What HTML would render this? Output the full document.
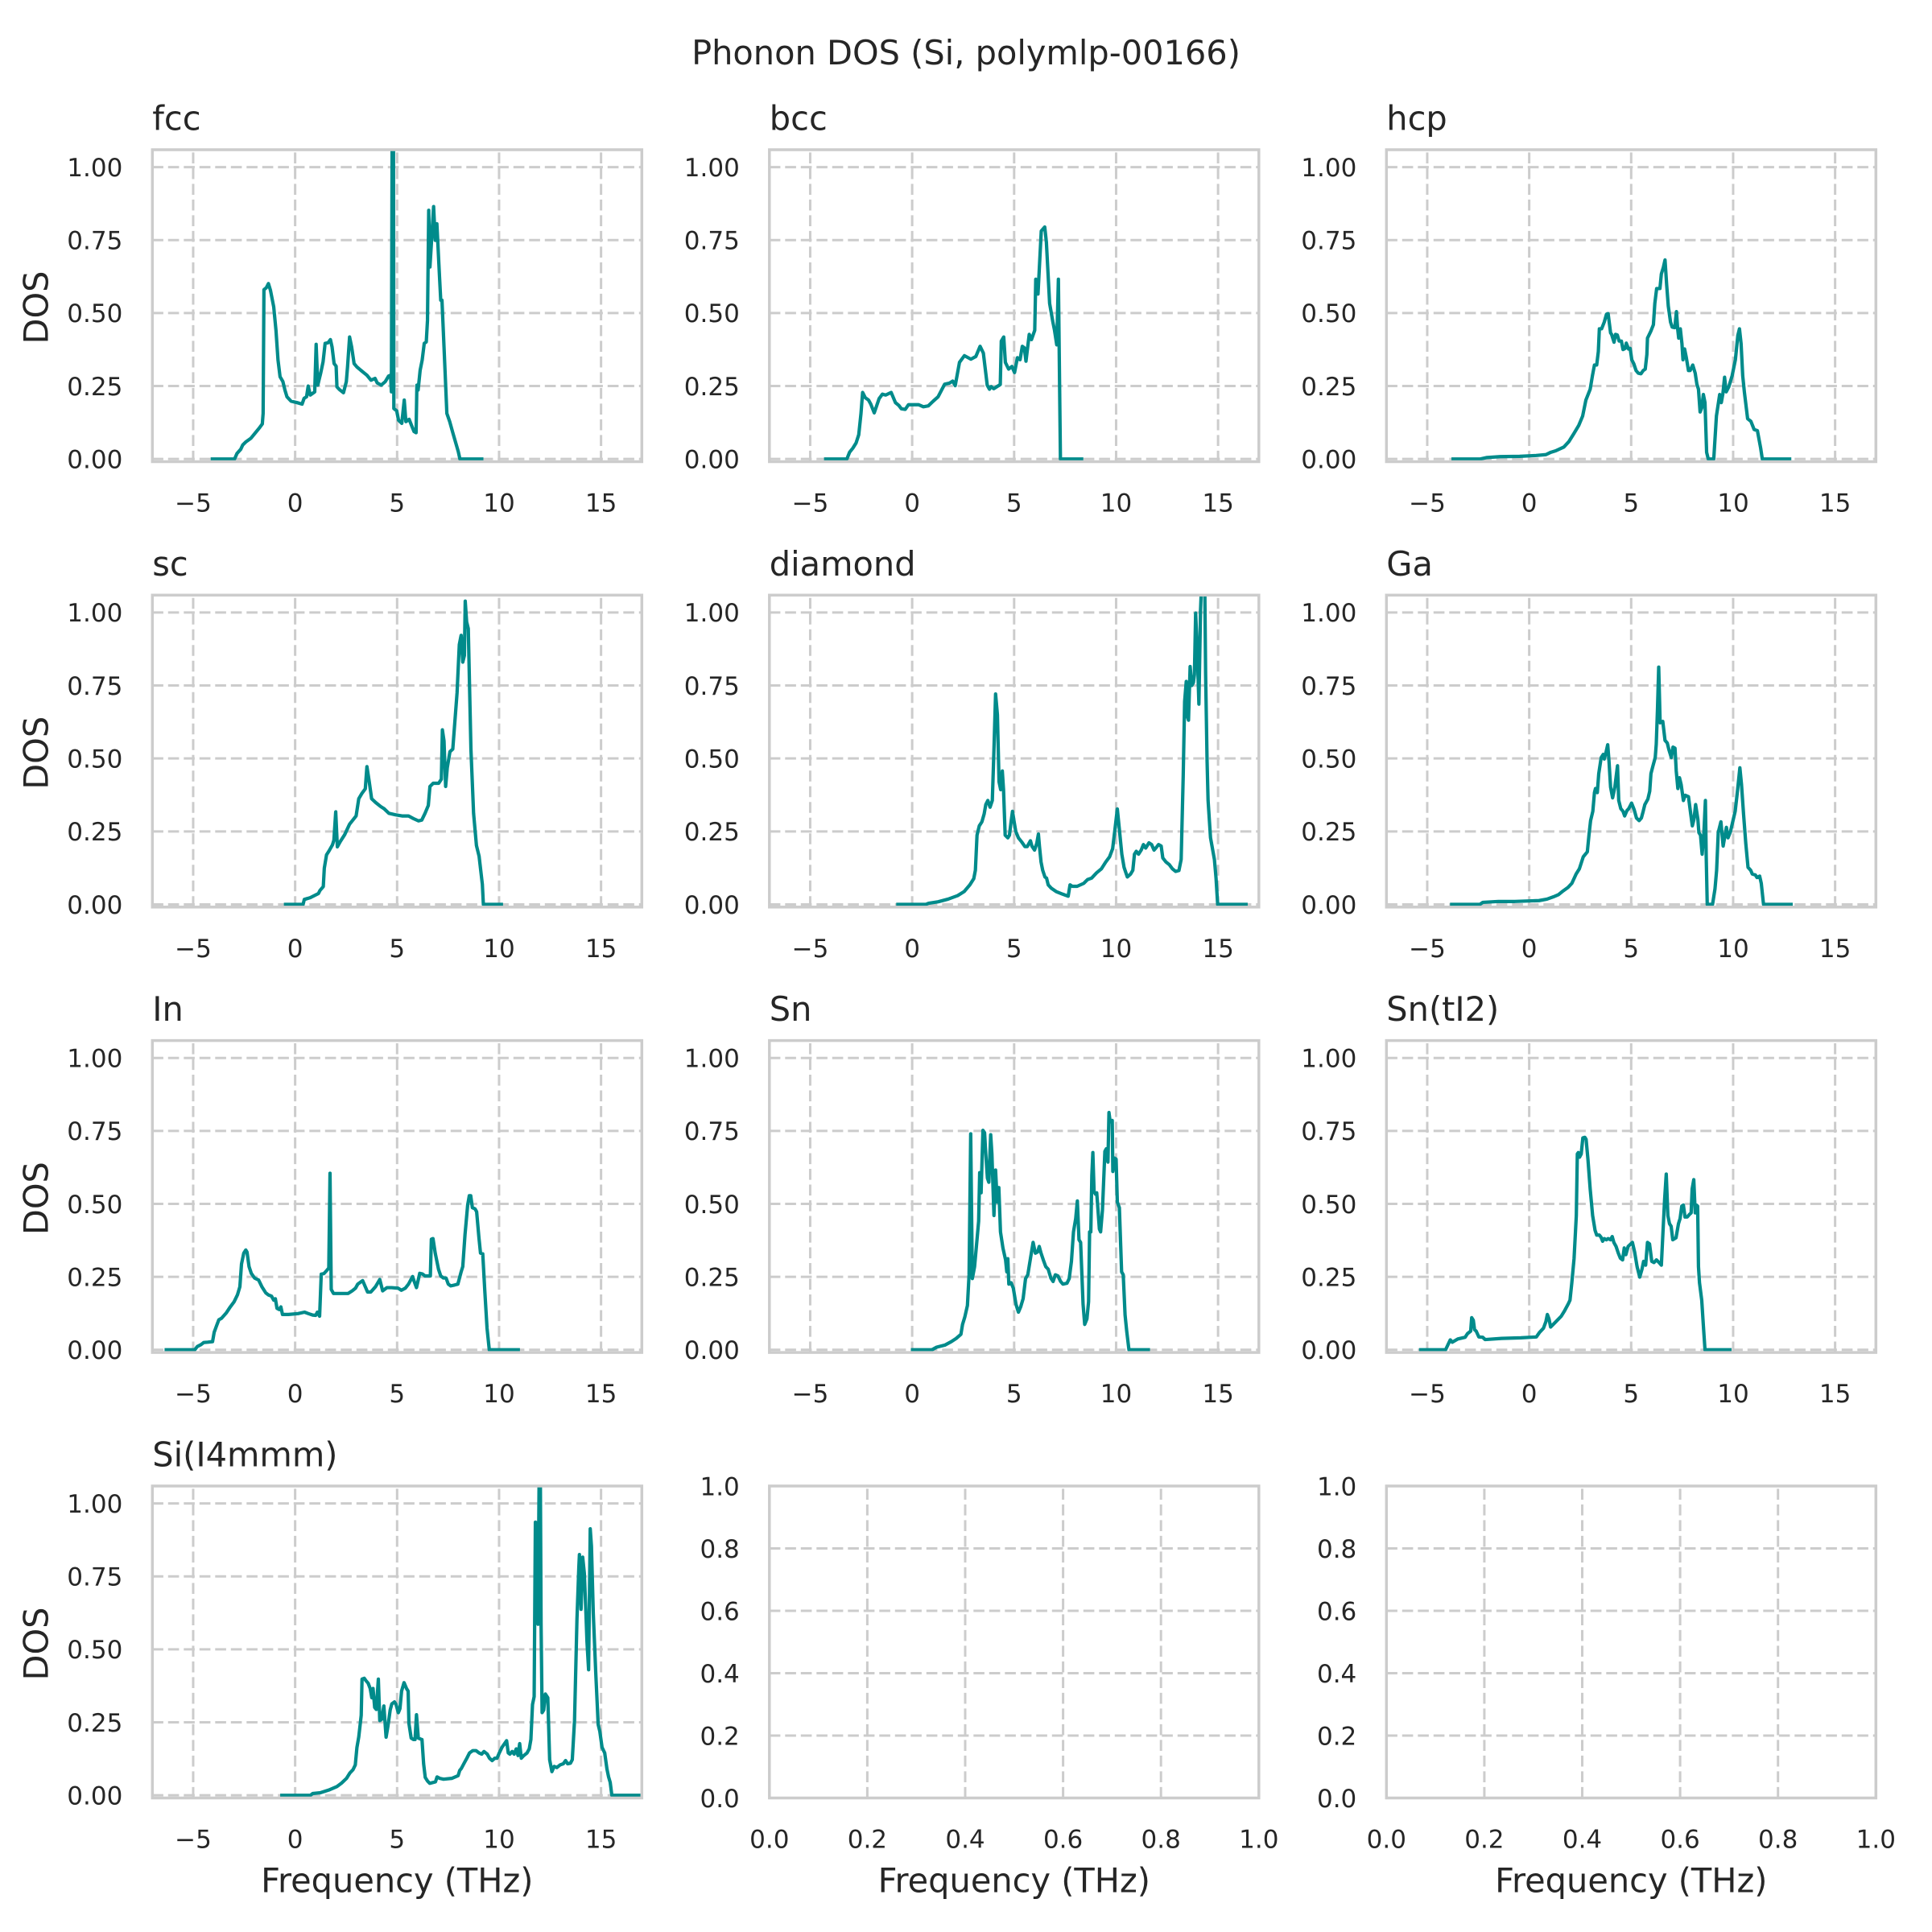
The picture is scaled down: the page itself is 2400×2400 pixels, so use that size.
<!DOCTYPE html>
<html><head><meta charset="utf-8"><style>
html,body{margin:0;padding:0;background:#fff;}
body{width:2400px;height:2400px;overflow:hidden;}
svg{display:block;}
text{font-family:"DejaVu Sans","Liberation Sans",sans-serif;fill:#262626;}
.g{stroke:#cccccc;stroke-width:3;stroke-dasharray:13.6 5.9;fill:none;}
.sp{stroke:#cccccc;stroke-width:3.5;fill:none;}
.ln{stroke:#008b8b;stroke-width:4.2;fill:none;stroke-linejoin:round;stroke-linecap:square;}
.yt{font-size:31px;text-anchor:end;}
.xt{font-size:31px;text-anchor:middle;}
.ti{font-size:41.5px;}
.lb{font-size:41.5px;text-anchor:middle;}
</style></head><body>
<svg width="2400" height="2400" viewBox="0 0 2400 2400" xmlns="http://www.w3.org/2000/svg">
<defs>
<clipPath id="a11"><rect x="189.3" y="186" width="608" height="387.5"/></clipPath>
<clipPath id="a12"><rect x="955.8" y="186" width="608" height="387.5"/></clipPath>
<clipPath id="a13"><rect x="1722.3" y="186" width="608" height="387.5"/></clipPath>
<clipPath id="a21"><rect x="189.3" y="739.3" width="608" height="387.5"/></clipPath>
<clipPath id="a22"><rect x="955.8" y="739.3" width="608" height="387.5"/></clipPath>
<clipPath id="a23"><rect x="1722.3" y="739.3" width="608" height="387.5"/></clipPath>
<clipPath id="a31"><rect x="189.3" y="1292.6" width="608" height="387.5"/></clipPath>
<clipPath id="a32"><rect x="955.8" y="1292.6" width="608" height="387.5"/></clipPath>
<clipPath id="a33"><rect x="1722.3" y="1292.6" width="608" height="387.5"/></clipPath>
<clipPath id="a41"><rect x="189.3" y="1846" width="608" height="387.5"/></clipPath>
</defs>

<text x="1200" y="80" font-size="41.5" text-anchor="middle">Phonon DOS (Si, polymlp-00166)</text>

<g class="g">
<path d="M239.97 573.5V186M366.63 573.5V186M493.3 573.5V186M619.97 573.5V186M746.63 573.5V186"/>
<path d="M189.3 570.16H797.3M189.3 479.52H797.3M189.3 388.88H797.3M189.3 298.24H797.3M189.3 207.6H797.3"/>
<path d="M1006.47 573.5V186M1133.13 573.5V186M1259.8 573.5V186M1386.47 573.5V186M1513.13 573.5V186"/>
<path d="M955.8 570.16H1563.8M955.8 479.52H1563.8M955.8 388.88H1563.8M955.8 298.24H1563.8M955.8 207.6H1563.8"/>
<path d="M1772.97 573.5V186M1899.63 573.5V186M2026.3 573.5V186M2152.97 573.5V186M2279.63 573.5V186"/>
<path d="M1722.3 570.16H2330.3M1722.3 479.52H2330.3M1722.3 388.88H2330.3M1722.3 298.24H2330.3M1722.3 207.6H2330.3"/>
<path d="M239.97 1126.8V739.3M366.63 1126.8V739.3M493.3 1126.8V739.3M619.97 1126.8V739.3M746.63 1126.8V739.3"/>
<path d="M189.3 1123.46H797.3M189.3 1032.82H797.3M189.3 942.18H797.3M189.3 851.54H797.3M189.3 760.9H797.3"/>
<path d="M1006.47 1126.8V739.3M1133.13 1126.8V739.3M1259.8 1126.8V739.3M1386.47 1126.8V739.3M1513.13 1126.8V739.3"/>
<path d="M955.8 1123.46H1563.8M955.8 1032.82H1563.8M955.8 942.18H1563.8M955.8 851.54H1563.8M955.8 760.9H1563.8"/>
<path d="M1772.97 1126.8V739.3M1899.63 1126.8V739.3M2026.3 1126.8V739.3M2152.97 1126.8V739.3M2279.63 1126.8V739.3"/>
<path d="M1722.3 1123.46H2330.3M1722.3 1032.82H2330.3M1722.3 942.18H2330.3M1722.3 851.54H2330.3M1722.3 760.9H2330.3"/>
<path d="M239.97 1680.1V1292.6M366.63 1680.1V1292.6M493.3 1680.1V1292.6M619.97 1680.1V1292.6M746.63 1680.1V1292.6"/>
<path d="M189.3 1676.76H797.3M189.3 1586.12H797.3M189.3 1495.48H797.3M189.3 1404.84H797.3M189.3 1314.2H797.3"/>
<path d="M1006.47 1680.1V1292.6M1133.13 1680.1V1292.6M1259.8 1680.1V1292.6M1386.47 1680.1V1292.6M1513.13 1680.1V1292.6"/>
<path d="M955.8 1676.76H1563.8M955.8 1586.12H1563.8M955.8 1495.48H1563.8M955.8 1404.84H1563.8M955.8 1314.2H1563.8"/>
<path d="M1772.97 1680.1V1292.6M1899.63 1680.1V1292.6M2026.3 1680.1V1292.6M2152.97 1680.1V1292.6M2279.63 1680.1V1292.6"/>
<path d="M1722.3 1676.76H2330.3M1722.3 1586.12H2330.3M1722.3 1495.48H2330.3M1722.3 1404.84H2330.3M1722.3 1314.2H2330.3"/>
<path d="M239.97 2233.5V1846M366.63 2233.5V1846M493.3 2233.5V1846M619.97 2233.5V1846M746.63 2233.5V1846"/>
<path d="M189.3 2230.16H797.3M189.3 2139.52H797.3M189.3 2048.88H797.3M189.3 1958.24H797.3M189.3 1867.6H797.3"/>
<path d="M1077.4 2233.5V1846M1199 2233.5V1846M1320.6 2233.5V1846M1442.2 2233.5V1846"/>
<path d="M955.8 2156H1563.8M955.8 2078.5H1563.8M955.8 2001H1563.8M955.8 1923.5H1563.8"/>
<path d="M1843.9 2233.5V1846M1965.5 2233.5V1846M2087.1 2233.5V1846M2208.7 2233.5V1846"/>
<path d="M1722.3 2156H2330.3M1722.3 2078.5H2330.3M1722.3 2001H2330.3M1722.3 1923.5H2330.3"/>
</g>

<g clip-path="url(#a11)"><polyline class="ln" vector-effect="non-scaling-stroke" transform="translate(366.633,570.164) scale(25.3333,-362.56)" points="-4.06,0 -2.97,0 -2.85,0.019 -2.67,0.033 -2.57,0.048 -2.41,0.059 -2.17,0.071 -1.97,0.088 -1.77,0.105 -1.61,0.12 -1.57,0.156 -1.53,0.58 -1.41,0.587 -1.31,0.601 -1.21,0.578 -1.05,0.521 -0.94,0.441 -0.84,0.339 -0.74,0.282 -0.6,0.265 -0.5,0.236 -0.4,0.213 -0.2,0.198 0.1,0.193 0.34,0.188 0.44,0.208 0.56,0.213 0.64,0.25 0.74,0.219 0.9,0.227 0.96,0.23 1.03,0.393 1.11,0.253 1.25,0.293 1.37,0.333 1.47,0.396 1.61,0.398 1.73,0.409 1.81,0.384 1.91,0.327 2.01,0.318 2.05,0.247 2.17,0.238 2.37,0.227 2.51,0.265 2.57,0.316 2.67,0.418 2.77,0.384 2.89,0.327 3.02,0.316 3.22,0.304 3.38,0.295 3.52,0.287 3.72,0.27 3.92,0.276 4.02,0.261 4.22,0.253 4.42,0.265 4.58,0.284 4.68,0.287 4.72,0.23 4.76,1.2 4.82,1.2 4.84,0.173 4.98,0.165 5.07,0.133 5.23,0.122 5.35,0.202 5.43,0.128 5.59,0.136 5.73,0.111 5.83,0.094 5.93,0.09 5.97,0.253 6.03,0.236 6.13,0.304 6.23,0.339 6.33,0.396 6.43,0.401 6.49,0.475 6.55,0.852 6.61,0.658 6.69,0.749 6.79,0.865 6.87,0.749 6.95,0.806 7.08,0.624 7.14,0.544 7.2,0.544 7.3,0.384 7.44,0.156 7.58,0.128 7.74,0.088 7.88,0.054 8.0,0.025 8.08,0 9.15,0"/></g>

<g clip-path="url(#a12)"><polyline class="ln" vector-effect="non-scaling-stroke" transform="translate(1133.133,570.164) scale(25.3333,-362.56)" points="-4.24,0 -3.2,0 -3.07,0.023 -2.91,0.037 -2.75,0.055 -2.62,0.083 -2.51,0.156 -2.43,0.228 -2.3,0.21 -2.14,0.202 -2.03,0.188 -1.86,0.158 -1.62,0.207 -1.46,0.222 -1.3,0.219 -1.03,0.228 -0.82,0.193 -0.66,0.184 -0.53,0.172 -0.34,0.17 -0.18,0.186 0.31,0.186 0.55,0.179 0.79,0.182 1.03,0.198 1.27,0.213 1.59,0.256 1.83,0.26 1.99,0.267 2.11,0.251 2.32,0.331 2.56,0.354 2.88,0.342 3.12,0.351 3.33,0.386 3.49,0.363 3.68,0.253 3.79,0.239 3.87,0.248 4,0.241 4.32,0.255 4.37,0.404 4.49,0.418 4.57,0.331 4.73,0.308 4.89,0.317 5.02,0.296 5.16,0.347 5.29,0.34 5.4,0.386 5.5,0.381 5.58,0.335 5.74,0.427 5.85,0.409 6.01,0.441 6.06,0.616 6.17,0.565 6.33,0.781 6.5,0.795 6.58,0.744 6.74,0.533 6.9,0.469 6.98,0.441 7.09,0.391 7.17,0.616 7.27,0 8.31,0"/></g>

<g clip-path="url(#a13)"><polyline class="ln" vector-effect="non-scaling-stroke" transform="translate(1899.633,570.164) scale(25.3333,-362.56)" points="-3.73,0 -2.4,0 -2.07,0.005 -1.43,0.008 -0.47,0.009 0.34,0.012 0.82,0.015 1.06,0.023 1.3,0.028 1.7,0.041 1.95,0.06 2.19,0.087 2.43,0.115 2.62,0.147 2.78,0.202 2.99,0.239 3.1,0.285 3.2,0.322 3.31,0.322 3.39,0.368 3.44,0.446 3.55,0.446 3.68,0.469 3.79,0.496 3.87,0.498 3.99,0.432 4.04,0.427 4.16,0.4 4.23,0.427 4.32,0.425 4.41,0.404 4.52,0.404 4.6,0.375 4.71,0.379 4.76,0.397 4.87,0.377 4.95,0.379 5.03,0.34 5.13,0.326 5.24,0.303 5.35,0.294 5.48,0.292 5.59,0.303 5.69,0.308 5.77,0.358 5.8,0.414 5.96,0.437 6.09,0.46 6.16,0.533 6.25,0.584 6.41,0.584 6.48,0.634 6.58,0.657 6.66,0.682 6.74,0.597 6.82,0.524 6.93,0.469 7.01,0.452 7.14,0.45 7.22,0.505 7.28,0.446 7.33,0.414 7.41,0.446 7.49,0.395 7.54,0.34 7.62,0.377 7.7,0.349 7.81,0.303 7.89,0.303 8.02,0.322 8.14,0.294 8.22,0.257 8.3,0.239 8.38,0.161 8.46,0.175 8.54,0.221 8.62,0.193 8.7,0.023 8.78,0 9.05,0 9.18,0.147 9.34,0.221 9.42,0.193 9.5,0.225 9.58,0.28 9.66,0.23 9.79,0.248 9.95,0.285 10.11,0.34 10.23,0.423 10.31,0.446 10.39,0.395 10.47,0.285 10.55,0.23 10.71,0.138 10.87,0.129 11.03,0.101 11.19,0.097 11.35,0.037 11.43,0 12.77,0"/></g>

<g clip-path="url(#a21)"><polyline class="ln" vector-effect="non-scaling-stroke" transform="translate(366.633,1123.464) scale(25.3333,-362.56)" points="-0.47,0 0.39,0 0.45,0.017 0.74,0.023 1.14,0.037 1.22,0.048 1.38,0.061 1.43,0.124 1.54,0.17 1.66,0.183 1.83,0.204 1.9,0.22 1.99,0.317 2.07,0.197 2.22,0.216 2.43,0.239 2.67,0.275 2.99,0.303 3.12,0.362 3.28,0.381 3.44,0.396 3.52,0.472 3.63,0.422 3.75,0.362 3.95,0.349 4.2,0.335 4.36,0.328 4.6,0.312 4.92,0.307 5.24,0.303 5.56,0.303 5.8,0.294 6.05,0.286 6.21,0.289 6.37,0.312 6.53,0.339 6.61,0.404 6.77,0.415 7.04,0.415 7.17,0.429 7.22,0.598 7.3,0.56 7.38,0.404 7.46,0.468 7.59,0.523 7.73,0.532 7.94,0.725 8.05,0.89 8.14,0.922 8.22,0.83 8.3,0.853 8.34,1.039 8.41,0.968 8.49,0.945 8.62,0.532 8.75,0.312 8.89,0.202 9.02,0.165 9.18,0.069 9.23,0 10.11,0"/></g>

<g clip-path="url(#a22)"><polyline class="ln" vector-effect="non-scaling-stroke" transform="translate(1133.133,1123.464) scale(25.3333,-362.56)" points="-0.7,0 0.68,0 0.81,0.004 1.28,0.009 1.76,0.018 2.23,0.03 2.55,0.044 2.83,0.067 3.02,0.088 3.1,0.117 3.18,0.237 3.29,0.269 3.42,0.283 3.53,0.31 3.61,0.342 3.71,0.356 3.82,0.333 3.93,0.356 4.01,0.53 4.09,0.721 4.18,0.65 4.26,0.42 4.34,0.393 4.42,0.457 4.48,0.393 4.56,0.237 4.69,0.228 4.77,0.237 4.85,0.283 4.92,0.319 5.0,0.283 5.08,0.25 5.21,0.228 5.37,0.214 5.53,0.198 5.64,0.198 5.8,0.218 5.87,0.2 6.0,0.186 6.11,0.209 6.19,0.241 6.24,0.2 6.32,0.145 6.4,0.117 6.51,0.094 6.59,0.09 6.67,0.067 6.83,0.055 7.06,0.044 7.38,0.035 7.65,0.028 7.74,0.067 7.85,0.062 8.09,0.062 8.41,0.072 8.6,0.085 8.8,0.09 9.04,0.108 9.28,0.122 9.49,0.145 9.68,0.163 9.83,0.191 9.94,0.255 10.06,0.327 10.15,0.264 10.28,0.172 10.39,0.127 10.55,0.094 10.71,0.104 10.82,0.117 10.9,0.172 10.99,0.182 11.1,0.172 11.23,0.186 11.34,0.205 11.45,0.193 11.61,0.211 11.74,0.205 11.86,0.186 11.97,0.195 12.08,0.205 12.21,0.2 12.29,0.159 12.45,0.145 12.61,0.136 12.76,0.122 12.92,0.113 13.08,0.116 13.19,0.154 13.29,0.439 13.36,0.695 13.44,0.764 13.51,0.64 13.55,0.631 13.63,0.815 13.71,0.75 13.79,0.76 13.84,0.787 13.9,0.998 13.98,0.87 14.06,0.686 14.14,1.007 14.22,1.15 14.34,1.15 14.39,0.787 14.46,0.494 14.51,0.356 14.63,0.228 14.82,0.154 14.9,0.09 14.98,0 16.37,0"/></g>

<g clip-path="url(#a23)"><polyline class="ln" vector-effect="non-scaling-stroke" transform="translate(1899.633,1123.464) scale(25.3333,-362.56)" points="-3.8,0 -2.42,0 -2.27,0.007 -1.51,0.01 -0.71,0.01 0.48,0.013 0.87,0.018 1.19,0.026 1.43,0.033 1.66,0.046 1.9,0.058 2.09,0.072 2.3,0.104 2.46,0.122 2.65,0.163 2.85,0.18 2.93,0.237 3.01,0.287 3.12,0.319 3.2,0.383 3.25,0.397 3.34,0.383 3.41,0.448 3.53,0.503 3.63,0.514 3.68,0.498 3.76,0.519 3.85,0.547 3.91,0.494 3.99,0.402 4.09,0.365 4.2,0.402 4.33,0.475 4.39,0.356 4.49,0.328 4.6,0.319 4.68,0.303 4.79,0.321 4.88,0.328 5.02,0.347 5.15,0.324 5.26,0.296 5.39,0.287 5.5,0.296 5.59,0.319 5.67,0.342 5.82,0.361 5.91,0.388 5.97,0.448 6.07,0.475 6.18,0.503 6.23,0.549 6.29,0.668 6.35,0.813 6.42,0.622 6.55,0.627 6.66,0.562 6.77,0.553 6.85,0.53 6.97,0.503 7.05,0.539 7.15,0.535 7.21,0.457 7.29,0.397 7.37,0.434 7.45,0.411 7.56,0.356 7.65,0.374 7.81,0.369 7.92,0.31 8.0,0.269 8.08,0.292 8.16,0.342 8.27,0.292 8.32,0.246 8.4,0.237 8.48,0.172 8.56,0.237 8.64,0.356 8.68,0.163 8.73,0 8.99,0 9.11,0.053 9.19,0.117 9.27,0.246 9.4,0.283 9.51,0.2 9.67,0.264 9.75,0.228 9.87,0.25 9.98,0.283 10.1,0.319 10.22,0.393 10.33,0.468 10.41,0.411 10.51,0.31 10.62,0.209 10.73,0.127 10.86,0.117 10.94,0.104 11.09,0.101 11.17,0.092 11.3,0.097 11.38,0.072 11.49,0 12.84,0"/></g>

<g clip-path="url(#a31)"><polyline class="ln" vector-effect="non-scaling-stroke" transform="translate(366.633,1676.764) scale(25.3333,-362.56)" points="-6.32,0 -4.92,0 -4.8,0.011 -4.61,0.018 -4.48,0.025 -4.29,0.026 -4.05,0.028 -3.97,0.06 -3.85,0.083 -3.74,0.103 -3.61,0.108 -3.37,0.127 -3.18,0.147 -2.99,0.165 -2.83,0.188 -2.71,0.216 -2.63,0.294 -2.52,0.331 -2.42,0.342 -2.36,0.335 -2.26,0.285 -2.15,0.262 -1.99,0.246 -1.79,0.239 -1.63,0.216 -1.44,0.195 -1.31,0.188 -1.16,0.184 -1.05,0.17 -0.97,0.175 -0.89,0.142 -0.78,0.138 -0.7,0.147 -0.62,0.121 -0.33,0.121 0.14,0.124 0.46,0.129 0.65,0.124 0.86,0.119 1.01,0.118 1.09,0.129 1.2,0.115 1.28,0.259 1.41,0.261 1.54,0.271 1.65,0.28 1.71,0.605 1.77,0.207 1.88,0.193 2.04,0.193 2.28,0.193 2.6,0.193 2.8,0.202 2.96,0.211 3.07,0.225 3.31,0.237 3.44,0.216 3.55,0.198 3.71,0.198 3.94,0.216 4.15,0.241 4.29,0.202 4.5,0.213 4.73,0.213 5.05,0.211 5.21,0.204 5.4,0.211 5.56,0.225 5.76,0.251 5.84,0.234 5.95,0.213 6.11,0.262 6.24,0.26 6.37,0.253 6.63,0.253 6.68,0.379 6.76,0.381 6.87,0.331 7.03,0.276 7.14,0.253 7.27,0.246 7.4,0.246 7.51,0.225 7.63,0.219 7.82,0.222 7.98,0.225 8.14,0.267 8.22,0.285 8.33,0.395 8.46,0.496 8.54,0.528 8.61,0.528 8.69,0.487 8.82,0.483 8.9,0.473 9.01,0.386 9.09,0.331 9.2,0.329 9.3,0.202 9.41,0.074 9.52,0 10.94,0"/></g>

<g clip-path="url(#a32)"><polyline class="ln" vector-effect="non-scaling-stroke" transform="translate(1133.133,1676.764) scale(25.3333,-362.56)" points="0.02,0 0.97,0 1.2,0.009 1.6,0.016 1.92,0.028 2.16,0.039 2.39,0.053 2.47,0.087 2.58,0.112 2.71,0.152 2.79,0.257 2.87,0.74 2.95,0.244 3.06,0.285 3.19,0.386 3.26,0.441 3.31,0.607 3.38,0.538 3.47,0.752 3.55,0.744 3.61,0.671 3.69,0.588 3.76,0.574 3.85,0.737 3.91,0.671 4.01,0.46 4.09,0.616 4.17,0.506 4.25,0.556 4.33,0.404 4.45,0.349 4.58,0.308 4.64,0.267 4.69,0.312 4.74,0.225 4.85,0.23 4.96,0.211 5.09,0.156 5.21,0.129 5.32,0.147 5.44,0.175 5.56,0.244 5.67,0.257 5.8,0.313 5.93,0.368 6.04,0.331 6.15,0.335 6.23,0.354 6.32,0.331 6.43,0.308 6.55,0.285 6.67,0.276 6.8,0.246 6.91,0.234 7.02,0.257 7.15,0.253 7.28,0.234 7.39,0.225 7.59,0.228 7.7,0.244 7.81,0.303 7.91,0.404 8.02,0.45 8.1,0.51 8.18,0.377 8.26,0.368 8.38,0.156 8.46,0.087 8.57,0.106 8.65,0.165 8.7,0.404 8.76,0.404 8.81,0.597 8.86,0.676 8.92,0.542 8.99,0.533 9.05,0.538 9.18,0.414 9.24,0.404 9.33,0.478 9.45,0.68 9.52,0.689 9.6,0.643 9.65,0.813 9.71,0.781 9.81,0.786 9.84,0.611 9.92,0.657 10.0,0.653 10.06,0.506 10.16,0.487 10.27,0.267 10.35,0.257 10.44,0.119 10.52,0.064 10.63,0 11.58,0"/></g>

<g clip-path="url(#a33)"><polyline class="ln" vector-effect="non-scaling-stroke" transform="translate(1899.633,1676.764) scale(25.3333,-362.56)" points="-5.32,0 -4.1,0 -3.98,0.018 -3.87,0.034 -3.77,0.026 -3.5,0.037 -3.14,0.043 -3.03,0.055 -2.87,0.064 -2.82,0.11 -2.74,0.101 -2.68,0.069 -2.6,0.064 -2.47,0.044 -2.28,0.043 -2.16,0.035 -1.36,0.039 -0.41,0.041 0.35,0.044 0.51,0.06 0.7,0.074 0.82,0.097 0.89,0.121 0.97,0.106 1.05,0.078 1.25,0.092 1.57,0.115 1.73,0.133 1.92,0.158 2.0,0.17 2.09,0.23 2.2,0.313 2.31,0.46 2.36,0.671 2.41,0.676 2.47,0.66 2.55,0.671 2.63,0.726 2.73,0.728 2.79,0.721 2.88,0.653 2.99,0.551 3.11,0.46 3.23,0.409 3.31,0.393 3.44,0.393 3.52,0.386 3.6,0.372 3.68,0.381 3.79,0.377 3.87,0.381 3.99,0.377 4.07,0.388 4.15,0.368 4.26,0.354 4.37,0.331 4.47,0.314 4.58,0.308 4.66,0.349 4.74,0.326 4.85,0.354 5.06,0.368 5.17,0.335 5.29,0.285 5.42,0.249 5.53,0.276 5.61,0.303 5.71,0.29 5.8,0.368 5.9,0.363 6.01,0.303 6.12,0.299 6.24,0.308 6.37,0.299 6.48,0.29 6.56,0.404 6.64,0.515 6.72,0.602 6.8,0.46 6.88,0.432 6.96,0.423 7.04,0.377 7.2,0.384 7.32,0.432 7.4,0.45 7.48,0.492 7.56,0.496 7.64,0.455 7.75,0.455 7.86,0.464 7.94,0.469 7.99,0.551 8.07,0.583 8.14,0.469 8.2,0.496 8.26,0.492 8.3,0.285 8.35,0.23 8.46,0.17 8.54,0.083 8.62,0 9.84,0"/></g>

<g clip-path="url(#a41)"><polyline class="ln" vector-effect="non-scaling-stroke" transform="translate(366.633,2230.164) scale(25.3333,-362.56)" points="-0.65,0 0.75,0 0.86,0.006 1.25,0.009 1.65,0.018 2.05,0.03 2.28,0.042 2.52,0.058 2.68,0.076 2.84,0.088 2.95,0.104 3.03,0.164 3.12,0.2 3.24,0.274 3.28,0.398 3.39,0.401 3.47,0.393 3.58,0.384 3.68,0.366 3.76,0.334 3.82,0.366 3.9,0.301 3.98,0.294 4.08,0.398 4.15,0.256 4.24,0.26 4.35,0.306 4.46,0.199 4.55,0.237 4.66,0.292 4.74,0.313 4.87,0.32 4.95,0.311 5.06,0.283 5.14,0.297 5.22,0.357 5.34,0.386 5.46,0.366 5.54,0.357 5.58,0.246 5.69,0.196 5.8,0.191 5.88,0.191 5.95,0.276 6.04,0.196 6.14,0.193 6.22,0.191 6.3,0.108 6.38,0.061 6.49,0.049 6.6,0.041 6.88,0.046 6.96,0.063 7.09,0.058 7.28,0.055 7.68,0.058 7.99,0.067 8.07,0.085 8.15,0.092 8.31,0.113 8.42,0.127 8.55,0.145 8.71,0.153 8.87,0.153 9.02,0.145 9.15,0.141 9.26,0.15 9.42,0.141 9.53,0.127 9.66,0.119 9.79,0.127 9.9,0.127 10.01,0.145 10.14,0.164 10.27,0.177 10.37,0.187 10.45,0.145 10.53,0.141 10.64,0.15 10.74,0.141 10.84,0.159 10.93,0.136 11.01,0.177 11.09,0.127 11.21,0.136 11.37,0.145 11.48,0.159 11.56,0.191 11.64,0.311 11.72,0.338 11.78,0.936 11.85,0.932 11.91,0.586 11.97,1.15 12.02,1.15 12.06,0.586 12.11,0.283 12.19,0.292 12.27,0.347 12.39,0.334 12.48,0.122 12.59,0.081 12.7,0.099 12.83,0.095 12.99,0.104 13.15,0.108 13.26,0.119 13.36,0.108 13.5,0.11 13.59,0.122 13.7,0.256 13.82,0.605 13.91,0.779 13.94,0.825 14.02,0.637 14.1,0.816 14.18,0.761 14.26,0.623 14.31,0.527 14.39,0.43 14.47,0.913 14.53,0.853 14.62,0.623 14.74,0.421 14.86,0.242 14.94,0.219 15.05,0.164 15.18,0.145 15.29,0.09 15.37,0.063 15.45,0.044 15.53,0 17.3,0"/></g>

<g class="sp">
<rect x="189.3" y="186" width="608" height="387.5"/>
<rect x="955.8" y="186" width="608" height="387.5"/>
<rect x="1722.3" y="186" width="608" height="387.5"/>
<rect x="189.3" y="739.3" width="608" height="387.5"/>
<rect x="955.8" y="739.3" width="608" height="387.5"/>
<rect x="1722.3" y="739.3" width="608" height="387.5"/>
<rect x="189.3" y="1292.6" width="608" height="387.5"/>
<rect x="955.8" y="1292.6" width="608" height="387.5"/>
<rect x="1722.3" y="1292.6" width="608" height="387.5"/>
<rect x="189.3" y="1846" width="608" height="387.5"/>
<rect x="955.8" y="1846" width="608" height="387.5"/>
<rect x="1722.3" y="1846" width="608" height="387.5"/>
</g>

<g class="ti">
<text x="189.3" y="161.5">fcc</text>
<text x="955.8" y="161.5">bcc</text>
<text x="1722.3" y="161.5">hcp</text>
<text x="189.3" y="714.8">sc</text>
<text x="955.8" y="714.8">diamond</text>
<text x="1722.3" y="714.8">Ga</text>
<text x="189.3" y="1268.1">In</text>
<text x="955.8" y="1268.1">Sn</text>
<text x="1722.3" y="1268.1">Sn(tI2)</text>
<text x="189.3" y="1821.5">Si(I4mmm)</text>
</g>

<g class="lb">
<text transform="translate(59.5,382) rotate(-90)">DOS</text>
<text transform="translate(59.5,935.3) rotate(-90)">DOS</text>
<text transform="translate(59.5,1488.6) rotate(-90)">DOS</text>
<text transform="translate(59.5,2042) rotate(-90)">DOS</text>
<text x="493.3" y="2350.5">Frequency (THz)</text>
<text x="1259.8" y="2350.5">Frequency (THz)</text>
<text x="2026.3" y="2350.5">Frequency (THz)</text>
</g>

<g class="yt">
<text x="152.3" y="581.5">0.00</text><text x="152.3" y="490.8">0.25</text><text x="152.3" y="400.2">0.50</text><text x="152.3" y="309.5">0.75</text><text x="152.3" y="218.9">1.00</text>
<text x="918.8" y="581.5">0.00</text><text x="918.8" y="490.8">0.25</text><text x="918.8" y="400.2">0.50</text><text x="918.8" y="309.5">0.75</text><text x="918.8" y="218.9">1.00</text>
<text x="1685.3" y="581.5">0.00</text><text x="1685.3" y="490.8">0.25</text><text x="1685.3" y="400.2">0.50</text><text x="1685.3" y="309.5">0.75</text><text x="1685.3" y="218.9">1.00</text>

<text x="152.3" y="1134.8">0.00</text><text x="152.3" y="1044.1">0.25</text><text x="152.3" y="953.5">0.50</text><text x="152.3" y="862.8">0.75</text><text x="152.3" y="772.2">1.00</text>
<text x="918.8" y="1134.8">0.00</text><text x="918.8" y="1044.1">0.25</text><text x="918.8" y="953.5">0.50</text><text x="918.8" y="862.8">0.75</text><text x="918.8" y="772.2">1.00</text>
<text x="1685.3" y="1134.8">0.00</text><text x="1685.3" y="1044.1">0.25</text><text x="1685.3" y="953.5">0.50</text><text x="1685.3" y="862.8">0.75</text><text x="1685.3" y="772.2">1.00</text>

<text x="152.3" y="1688.1">0.00</text><text x="152.3" y="1597.4">0.25</text><text x="152.3" y="1506.8">0.50</text><text x="152.3" y="1416.1">0.75</text><text x="152.3" y="1325.5">1.00</text>
<text x="918.8" y="1688.1">0.00</text><text x="918.8" y="1597.4">0.25</text><text x="918.8" y="1506.8">0.50</text><text x="918.8" y="1416.1">0.75</text><text x="918.8" y="1325.5">1.00</text>
<text x="1685.3" y="1688.1">0.00</text><text x="1685.3" y="1597.4">0.25</text><text x="1685.3" y="1506.8">0.50</text><text x="1685.3" y="1416.1">0.75</text><text x="1685.3" y="1325.5">1.00</text>

<text x="152.3" y="2241.5">0.00</text><text x="152.3" y="2150.8">0.25</text><text x="152.3" y="2060.2">0.50</text><text x="152.3" y="1969.5">0.75</text><text x="152.3" y="1878.9">1.00</text>

<text x="918.8" y="2244.8">0.0</text><text x="918.8" y="2167.3">0.2</text><text x="918.8" y="2089.8">0.4</text><text x="918.8" y="2012.3">0.6</text><text x="918.8" y="1934.8">0.8</text><text x="918.8" y="1857.3">1.0</text>
<text x="1685.3" y="2244.8">0.0</text><text x="1685.3" y="2167.3">0.2</text><text x="1685.3" y="2089.8">0.4</text><text x="1685.3" y="2012.3">0.6</text><text x="1685.3" y="1934.8">0.8</text><text x="1685.3" y="1857.3">1.0</text>
</g>

<g class="xt">
<text x="239.97" y="635.5">−5</text><text x="366.63" y="635.5">0</text><text x="493.3" y="635.5">5</text><text x="619.97" y="635.5">10</text><text x="746.63" y="635.5">15</text>
<text x="1006.47" y="635.5">−5</text><text x="1133.13" y="635.5">0</text><text x="1259.8" y="635.5">5</text><text x="1386.47" y="635.5">10</text><text x="1513.13" y="635.5">15</text>
<text x="1772.97" y="635.5">−5</text><text x="1899.63" y="635.5">0</text><text x="2026.3" y="635.5">5</text><text x="2152.97" y="635.5">10</text><text x="2279.63" y="635.5">15</text>

<text x="239.97" y="1188.8">−5</text><text x="366.63" y="1188.8">0</text><text x="493.3" y="1188.8">5</text><text x="619.97" y="1188.8">10</text><text x="746.63" y="1188.8">15</text>
<text x="1006.47" y="1188.8">−5</text><text x="1133.13" y="1188.8">0</text><text x="1259.8" y="1188.8">5</text><text x="1386.47" y="1188.8">10</text><text x="1513.13" y="1188.8">15</text>
<text x="1772.97" y="1188.8">−5</text><text x="1899.63" y="1188.8">0</text><text x="2026.3" y="1188.8">5</text><text x="2152.97" y="1188.8">10</text><text x="2279.63" y="1188.8">15</text>

<text x="239.97" y="1742.1">−5</text><text x="366.63" y="1742.1">0</text><text x="493.3" y="1742.1">5</text><text x="619.97" y="1742.1">10</text><text x="746.63" y="1742.1">15</text>
<text x="1006.47" y="1742.1">−5</text><text x="1133.13" y="1742.1">0</text><text x="1259.8" y="1742.1">5</text><text x="1386.47" y="1742.1">10</text><text x="1513.13" y="1742.1">15</text>
<text x="1772.97" y="1742.1">−5</text><text x="1899.63" y="1742.1">0</text><text x="2026.3" y="1742.1">5</text><text x="2152.97" y="1742.1">10</text><text x="2279.63" y="1742.1">15</text>

<text x="239.97" y="2295.5">−5</text><text x="366.63" y="2295.5">0</text><text x="493.3" y="2295.5">5</text><text x="619.97" y="2295.5">10</text><text x="746.63" y="2295.5">15</text>

<text x="955.8" y="2295.5">0.0</text><text x="1077.4" y="2295.5">0.2</text><text x="1199" y="2295.5">0.4</text><text x="1320.6" y="2295.5">0.6</text><text x="1442.2" y="2295.5">0.8</text><text x="1563.8" y="2295.5">1.0</text>
<text x="1722.3" y="2295.5">0.0</text><text x="1843.9" y="2295.5">0.2</text><text x="1965.5" y="2295.5">0.4</text><text x="2087.1" y="2295.5">0.6</text><text x="2208.7" y="2295.5">0.8</text><text x="2330.3" y="2295.5">1.0</text>
</g>
</svg>
</body></html>
